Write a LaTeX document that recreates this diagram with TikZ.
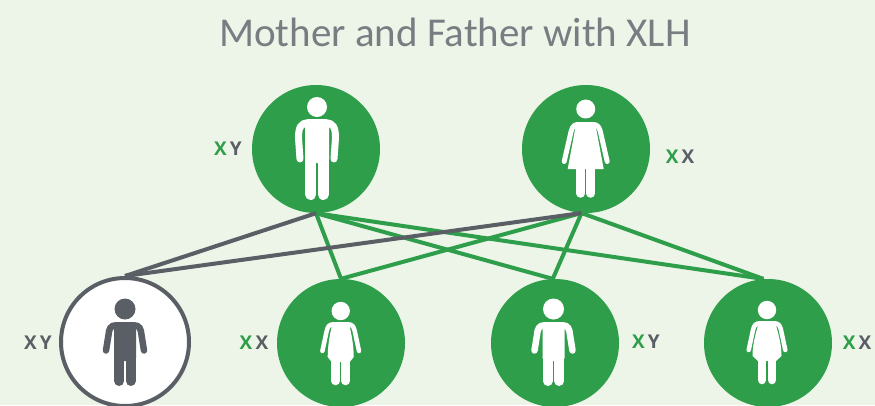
\documentclass[tikz,border=0pt]{standalone}
\usepackage{fontspec}
\setmainfont{Carlito}
\newfontfamily\genefont{Open Sans}
\definecolor{pagegreen}{HTML}{EDF5E8}
\definecolor{circlegreen}{HTML}{2F9E4A}
\definecolor{slategrey}{HTML}{5A5F66}
\definecolor{titlegrey}{HTML}{787D82}

\begin{document}
\begin{tikzpicture}[x=1pt, y=-1pt,
    parent/.style={circle, fill=circlegreen, minimum size=128pt, inner sep=0pt},
    affected/.style={circle, draw=slategrey, fill=white, line width=4pt, minimum size=128pt, inner sep=0pt},
    gene/.style={font=\genefont\bfseries\fontsize{19}{19}\selectfont, text=slategrey, inner sep=0pt},
    greenedge/.style={draw=circlegreen, line width=4pt},
    greyedge/.style={draw=slategrey, line width=4pt},
    pics/man/.style={code={
        \fill[#1] (0,0) circle (10);
        \fill[#1, rounded corners=3pt] (-12,12) rectangle (12,56);
        \draw[#1, line width=7pt, line cap=round] (-9,16) .. controls (-16,16) and (-18.5,20) .. (-18.5,31) -- (-17,52);
        \draw[#1, line width=7pt, line cap=round] (9,16) .. controls (16,16) and (18.5,20) .. (18.5,31) -- (17,52);
        \draw[#1, line width=11pt, line cap=round] (-6.3,45) -- (-6.3,87.5);
        \draw[#1, line width=11pt, line cap=round] (6.3,45) -- (6.3,87.5);
    }},
    pics/boy/.style={code={
        \fill[#1] (0,0) circle (10.5);
        \fill[#1, rounded corners=3pt] (-11,13) rectangle (11,52);
        \draw[#1, line width=6.5pt, line cap=round] (-9,16.3) .. controls (-14.5,16.3) and (-16,20) .. (-16.5,26) -- (-19,41.5);
        \draw[#1, line width=6.5pt, line cap=round] (9,16.3) .. controls (14.5,16.3) and (16,20) .. (16.5,26) -- (19,41.5);
        \draw[#1, line width=10pt, line cap=round] (-5.7,45) -- (-5.7,72);
        \draw[#1, line width=10pt, line cap=round] (5.7,45) -- (5.7,72);
    }},
    pics/woman/.style={code={
        \fill[#1] (0,0) circle (9.5);
        \fill[#1] (-8,13) -- (8,13) -- (10,17) -- (18,60) -- (-18,60) -- (-10,17) -- cycle;
        \draw[#1, line width=5pt, line cap=round] (-7,15.5) .. controls (-11,15.5) and (-13,17) .. (-14.5,22) -- (-21.5,52.5);
        \draw[#1, line width=5pt, line cap=round] (7,15.5) .. controls (11,15.5) and (13,17) .. (14.5,22) -- (21.5,52.5);
        \draw[#1, line width=8.5pt, line cap=round] (-5,55) -- (-5,84.5);
        \draw[#1, line width=8.5pt, line cap=round] (5,55) -- (5,84.5);
    }},
    pics/girl/.style={code={
        \fill[white] (0,0) circle (9.2);
        \fill[white] (-8,11) -- (8,11) .. controls (10,20) and (#1,32) .. (#1,46) -- (9,51) -- (-9,51) -- (-#1,46) .. controls (-#1,32) and (-10,20) .. (-8,11) -- cycle;
        \draw[white, line width=4.5pt, line cap=round] (-7,13.3) .. controls (-11,13.3) and (-13,15) .. (-14,20) -- (-18.3,40);
        \draw[white, line width=4.5pt, line cap=round] (7,13.3) .. controls (11,13.3) and (13,15) .. (14,20) -- (18.3,40);
        \draw[white, line width=8.5pt, line cap=round] (-5,48) -- (-5,70);
        \draw[white, line width=8.5pt, line cap=round] (5,48) -- (5,70);
    }}]
\useasboundingbox (0,0) rectangle (875,405);
\fill[pagegreen] (0,0) rectangle (875,405);
\node (title) at (455,32) {\fontsize{41}{41}\selectfont\color{titlegrey}Mother and Father with XLH};
\node[parent] (father) at (316,149) {};
\node[parent] (mother) at (586,149) {};
\node[affected] (son1) at (125,342) {};
\node[parent] (daughter1) at (341,343) {};
\node[parent] (son2) at (555,343) {};
\node[parent] (daughter2) at (768,343) {};
\pic at (317,107) {man=white};
\pic at (585.7,109) {woman=white};
\pic at (125,309) {boy=slategrey};
\pic at (340.7,311) {girl=13};
\pic at (553.5,309) {boy=white};
\pic at (767,310) {girl=14.5};
\node[gene] (fatherxy) at (228,149) {\textcolor{circlegreen}{X}\,Y};
\node[gene] (motherxx) at (680,157) {\textcolor{circlegreen}{X}\,X};
\node[gene] (son1xy) at (38,343) {X\,Y};
\node[gene] (daughter1xx) at (254,343) {\textcolor{circlegreen}{X}\,X};
\node[gene] (son2xy) at (646,342) {\textcolor{circlegreen}{X}\,Y};
\node[gene] (daughter2xx) at (857,343) {\textcolor{circlegreen}{X}\,X};
\draw[greenedge] (father.south) -- (daughter1.north);
\draw[greenedge] (father.south) -- (son2.92);
\draw[greenedge] (father.south) -- (daughter2.94);
\draw[greenedge] (mother.266) -- (daughter1.north);
\draw[greenedge] (mother.266) -- (son2.92);
\draw[greenedge] (mother.266) -- (daughter2.94);
\draw[greyedge] (father.south) -- (son1.north);
\draw[greyedge] (mother.266) -- (son1.north);
\end{tikzpicture}
\end{document}
